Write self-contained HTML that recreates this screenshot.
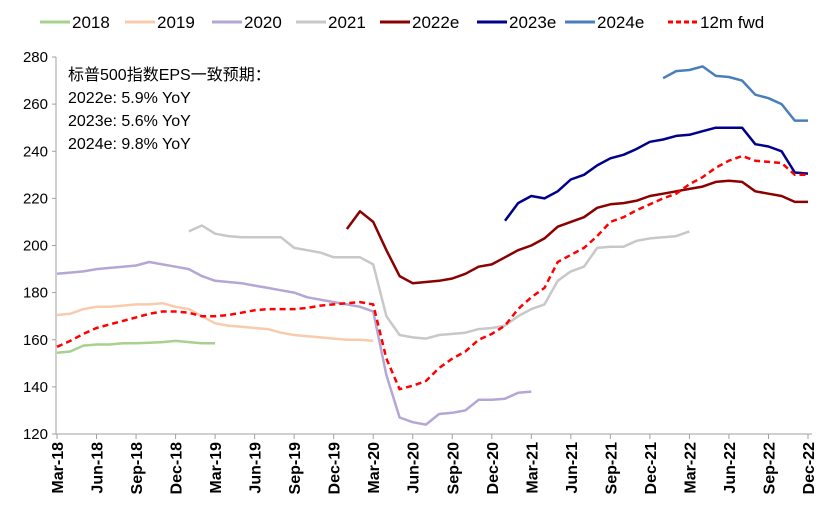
<!DOCTYPE html>
<html><head><meta charset="utf-8"><style>
body{margin:0;background:#fff;}
svg{display:block;font-family:"Liberation Sans","Noto Sans CJK SC",sans-serif;}
</style></head><body>
<svg id="chart" width="836" height="520" viewBox="0 0 836 520" xmlns="http://www.w3.org/2000/svg"></svg>
<script>
const xTickLabels=["Mar-18","Jun-18","Sep-18","Dec-18","Mar-19","Jun-19","Sep-19","Dec-19","Mar-20","Jun-20","Sep-20","Dec-20","Mar-21","Jun-21","Sep-21","Dec-21","Mar-22","Jun-22","Sep-22","Dec-22"];
const yTicks=[120,140,160,180,200,220,240,260,280];
const s2018=[154.5,155,157.5,158,158,158.5,158.5,158.7,159,159.5,159,158.5,158.5];
const s2019=[170.5,171,173,174,174,174.5,175,175,175.5,174,173,170,167,166,165.5,165,164.5,163,162,161.5,161,160.5,160,160,159.5];
const s2020=[188,188.5,189,190,190.5,191,191.5,193,192,191,190,187,185,184.5,184,183,182,181,180,178,177,176,175,174,172,145,127,125,124,128.5,129,130,134.5,134.5,135,137.5,138];
const s2021=[206,208.5,205,204,203.5,203.5,203.5,203.5,199,198,197,195,195,195,192,170,162,161,160.5,162,162.5,163,164.5,165,166,170,173,175,185,189,191,199,199.5,199.5,202,203,203.5,204,206];
const s2022=[207,214.5,210,198,187,184,184.5,185,186,188,191,192,195,198,200,203,208,210,212,216,217.5,218,219,221,222,223,224,225,227,227.5,227,223,222,221,218.5,218.5];
const s2023=[210.5,218,221,220,223,228,230,234,237,238.5,241,244,245,246.5,247,248.5,250,250,250,243,242,240,231,230.5];
const s2024=[271,274,274.5,276,272,271.5,270,264,262.5,260,253,253];
const sFwd=[157,159.5,162.5,165,166.5,168,169.5,171,172,172,171.5,170,170,170.5,171.5,172.5,173,173,173,173.5,174.5,175,175.5,176,175,152,139,140.5,142.5,148,152,155,160,162.5,166,173,178,182,193,196,199,204,210,212,215,217.5,220,222,226,229,233,236,238,236,235.5,235,230,230];
const seriesStarts=[0,0,0,10,22,34,46,0];
const NS="http://www.w3.org/2000/svg";
const svg=document.getElementById('chart');
const X0=57,X1=808,Y0=434,Y1=57,YMIN=120,YMAX=280;
const xs=i=>X0+(X1-X0)*i/57;
const ys=v=>Y0-(v-YMIN)*(Y0-Y1)/(YMAX-YMIN);
function el(t,a){const e=document.createElementNS(NS,t);for(const k in a)e.setAttribute(k,a[k]);svg.appendChild(e);return e;}
let ax=el('line',{x1:X0-1,y1:Y1,x2:X0-1,y2:Y0,stroke:'#a0a0a0','stroke-width':1});


let bx=el('line',{x1:X0-1,y1:Y0,x2:X1+4,y2:Y0,stroke:'#a0a0a0','stroke-width':1});


yTicks.forEach(v=>{
  const y=ys(v);
  let t=el('line',{x1:X0-5,y1:y,x2:X0-1,y2:y,stroke:'#a0a0a0'});
  
  
  let tx=el('text',{x:X0-9,y:y+5,'text-anchor':'end','font-size':15,fill:'#000'});
  tx.textContent=v;
  
  
});
xTickLabels.forEach((l,i)=>{
  const x=xs(i*3);
  let t=el('line',{x1:x,y1:Y0,x2:x,y2:Y0+5,stroke:'#a0a0a0'});
  
  
  let tx=el('text',{x:0,y:0,'text-anchor':'end','font-size':16,'font-weight':'bold',fill:'#000',transform:`translate(${x+6},${Y0+8}) rotate(-90)`});
  tx.textContent=l;
  
  
});
const all=[s2018,s2019,s2020,s2021,s2022,s2023,s2024,sFwd];
const names=["2018","2019","2020","2021","2022e","2023e","2024e","12m fwd"];
const colors=["#a9d18e","#f8cbad","#b4a7d6","#c8c8c8","#8b0000","#00008b","#4a7ebb","#ff0000"];
all.forEach((arr,k)=>{
  const d=arr.map((v,i)=>(i?'L':'M')+xs(seriesStarts[k]+i).toFixed(1)+','+ys(v).toFixed(1)).join(' ');
  const a={d:d,fill:'none',stroke:colors[k],'stroke-width':2.5,'stroke-linejoin':'round'};
  if(k==7)a['stroke-dasharray']='6,4';
  let p=el('path',a);
  
  
});
const lx=[40,125,212,296,380,477,565,668];
names.forEach((n,k)=>{
  const a={x1:lx[k],y1:22,x2:lx[k]+30,y2:22,stroke:colors[k],'stroke-width':3};
  if(k==7)a['stroke-dasharray']='5,3';
  let l=el('line',a);
  
  
  let t=el('text',{x:lx[k]+32,y:28,'font-size':17,fill:'#000'});
  t.textContent=n;
  
  
});
const notes=["标普500指数EPS一致预期：","2022e: 5.9% YoY","2023e: 5.6% YoY","2024e: 9.8% YoY"];
notes.forEach((n,i)=>{
  let t=el('text',{x:68,y:80+i*23,'font-size':16,fill:'#000'});
  t.textContent=n;
  
  
});
</script>
</body></html>
